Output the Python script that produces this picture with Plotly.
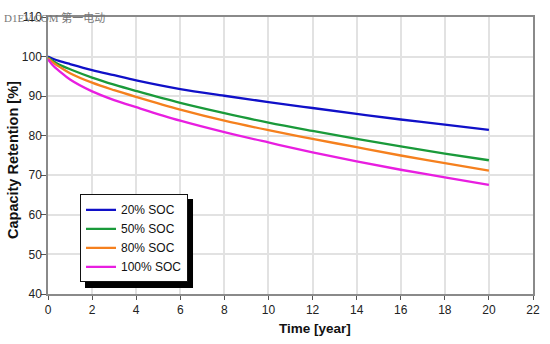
import plotly.graph_objects as go

# Capacity retention over time at different storage state-of-charge levels
years = [0, 0.25, 0.5, 1, 2, 3, 4, 6, 8, 10, 12, 14, 16, 18, 20]
soc_20 = [100.0, 99.4, 98.9, 98.1, 96.6, 95.3, 94.0, 91.8, 90.1, 88.5, 87.0, 85.5, 84.1, 82.8, 81.5]
soc_50 = [99.8, 98.8, 98.0, 96.8, 94.7, 92.9, 91.3, 88.3, 85.7, 83.3, 81.2, 79.2, 77.3, 75.5, 73.8]
soc_80 = [99.6, 98.4, 97.5, 95.8, 93.4, 91.5, 89.8, 86.6, 83.8, 81.4, 79.2, 77.1, 75.0, 73.1, 71.2]
soc_100 = [99.3, 97.6, 96.4, 94.2, 91.2, 89.0, 87.2, 83.8, 80.9, 78.3, 75.8, 73.5, 71.4, 69.5, 67.6]

series_names = ["20% SOC", "50% SOC", "80% SOC", "100% SOC"]
series_values = [soc_20, soc_50, soc_80, soc_100]
series_colors = ["#1010c8", "#1a9a3a", "#f5801e", "#e81ee0"]

x_ticks = list(range(0, 23, 2))
y_ticks = list(range(40, 111, 10))

fig = go.Figure()
for name, vals, col in zip(series_names, series_values, series_colors):
    fig.add_trace(go.Scatter(
        x=years, y=vals, name=name, mode="lines",
        line=dict(color=col, width=2.3, shape="spline", smoothing=1.0),
    ))

axis_font = dict(family="Liberation Sans, Arial, sans-serif", size=12, color="#222")

fig.update_layout(
    width=550, height=344,
    margin=dict(l=48, r=17, t=17, b=50),
    paper_bgcolor="white", plot_bgcolor="white",
    font=axis_font,
    showlegend=True,
    legend=dict(
        x=0.066, y=0.36, xanchor="left", yanchor="top",
        bgcolor="white", bordercolor="#111", borderwidth=1,
        font=dict(family="Liberation Sans, Arial, sans-serif", size=12, color="#111"),
        tracegroupgap=0, itemwidth=30,
    ),
    xaxis=dict(
        range=[0, 22], tickvals=x_ticks, ticktext=[str(v) for v in x_ticks],
        showgrid=True, gridcolor="#e2e2e2", gridwidth=1.5,
        showline=True, linecolor="#8a8a8a", linewidth=1.5, mirror=True,
        ticks="outside", ticklen=4, tickcolor="#555", zeroline=False,
        automargin=False,
    ),
    yaxis=dict(
        range=[40, 110], tickvals=y_ticks, ticktext=[str(v) for v in y_ticks],
        showgrid=True, gridcolor="#e2e2e2", gridwidth=1.5,
        showline=True, linecolor="#8a8a8a", linewidth=1.5, mirror=True,
        ticks="outside", ticklen=5, tickcolor="#555", zeroline=False,
        ticklabelstandoff=-3,
        automargin=False,
    ),
)

# Axis titles
fig.add_annotation(
    text="<b>Time [year]</b>", xref="paper", yref="paper",
    x=0.55, y=-0.126, xanchor="center", yanchor="middle", showarrow=False,
    font=dict(family="Liberation Sans, Arial, sans-serif", size=13.5, color="#111"),
)
fig.add_annotation(
    text="<b>Capacity Retention [%]</b>", xref="paper", yref="paper",
    x=-0.072, y=0.484, xanchor="center", yanchor="middle", showarrow=False,
    textangle=-90,
    font=dict(family="Liberation Sans, Arial, sans-serif", size=14.5, color="#111"),
)

# Drop shadow behind the legend box
fig.add_shape(
    type="rect", xref="paper", yref="paper",
    x0=0.0763, x1=0.299, y0=0.022, y1=0.343,
    fillcolor="black", line=dict(width=0), layer="above",
)

# Site watermark in the top-left corner
fig.add_annotation(
    text="D1EV.COM 第一电动", xref="paper", yref="paper",
    x=-0.095, y=1.0, xanchor="left", yanchor="middle", showarrow=False,
    font=dict(family="Liberation Serif, Noto Sans CJK SC, serif", size=11, color="#777"),
)

fig.write_html("out.html")
